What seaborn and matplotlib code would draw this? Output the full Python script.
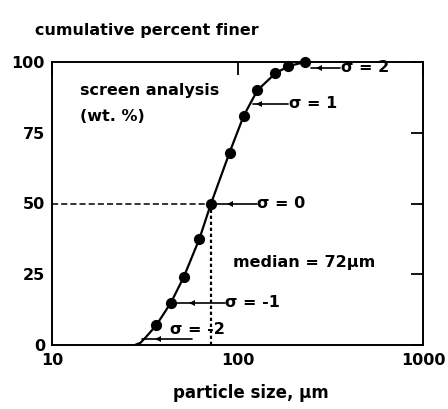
import matplotlib
matplotlib.use("Agg")
import matplotlib.pyplot as plt
import seaborn as sns
import pandas as pd

# ---- data ----
size_um = [36.5, 43.8, 51.3, 62.3, 72.0, 90.6, 108, 128, 160, 188, 230]
pct_finer = [7.0, 15.0, 24.0, 37.5, 50.0, 68.0, 81.0, 90.0, 96.0, 98.5, 100.0]
# start of the curve (no markers) where it leaves the axis
tail_size = [28.0, 30.0, 31.8]
tail_pct = [0.0, 0.8, 2.5]

median_um = 72
sigma_labels = ["σ = 2", "σ = 1", "σ = 0", "σ = -1"]
sigma_pct = [97.9, 85.2, 50.0, 15.0]
sigma_curve_x = [248, 120.5, 72.0, 43.8]
sigma_head_x = [274, 130, 91.6, 57.1]
sigma_text_x = [360, 189, 128, 86]
sig2_label = "σ = -2"
sig2_arrow_pct = 2.1
sig2_curve_x, sig2_head_x, sig2_end_x = 30.6, 37.4, 57.0
sig2_text_x, sig2_text_pct = 43.4, 5.6

xticks = [10, 100, 1000]
yticks = [0, 25, 50, 75, 100]

sns.set_style("white")
plt.rcParams["font.family"] = ["DejaVu Sans"]
plt.rcParams["font.weight"] = "bold"
plt.rcParams["text.color"] = "black"
plt.rcParams["axes.labelcolor"] = "black"
plt.rcParams["xtick.color"] = "black"
plt.rcParams["ytick.color"] = "black"

fig = plt.figure(figsize=(4.48, 4.09), dpi=100)
ax = fig.add_axes([52 / 448, 1 - 345 / 409, 371 / 448, 283 / 409])

curve = pd.DataFrame({"size": tail_size + size_um, "pct": tail_pct + pct_finer})
pts = pd.DataFrame({"size": size_um, "pct": pct_finer})
sns.lineplot(data=curve, x="size", y="pct", ax=ax, color="black", lw=1.6, sort=True)
sns.scatterplot(data=pts, x="size", y="pct", ax=ax, color="black", s=65,
                edgecolor="black", linewidth=0, zorder=5, clip_on=False)

ax.set_xscale("log")
ax.set_xlim(10, 1000)
ax.set_ylim(0, 100)

# median guide lines
ax.plot([10, median_um], [50, 50], color="black", lw=1.1, ls=(0, (4, 2)))
ax.plot([median_um, median_um], [0, 50], color="black", lw=1.6, ls=(0, (1.5, 1.2)))

# sigma arrows
for lab, yv, cx, hx, tx in zip(sigma_labels, sigma_pct, sigma_curve_x, sigma_head_x, sigma_text_x):
    ax.plot([cx, tx * 0.99], [yv, yv], color="black", lw=1.2)
    ax.plot([hx], [yv], marker="<", color="black", ms=5, mew=0)
    ax.text(tx, yv, lab, fontsize=11.5, fontweight="bold", va="center", ha="left", color="black")
ax.plot([sig2_curve_x, sig2_end_x], [sig2_arrow_pct, sig2_arrow_pct], color="black", lw=1.2)
ax.plot([sig2_head_x], [sig2_arrow_pct], marker="<", color="black", ms=5, mew=0)
ax.text(sig2_text_x, sig2_text_pct, sig2_label, fontsize=11.5, fontweight="bold",
        va="center", ha="left", color="black")

ax.text(14.2, 90.1, "screen analysis", fontsize=11.5, fontweight="bold", va="center", ha="left")
ax.text(14.2, 80.6, "(wt. %)", fontsize=11.5, fontweight="bold", va="center", ha="left")
ax.text(95, 29, "median = 72\u00b5m", fontsize=11.5, fontweight="bold", va="center", ha="left")

# axes styling
ax.set_xticks(xticks)
ax.set_xticklabels([str(t) for t in xticks])
ax.xaxis.set_minor_locator(matplotlib.ticker.NullLocator())
ax.set_yticks(yticks)
ax.set_yticklabels([str(t) for t in yticks])
ax.tick_params(axis="both", direction="in", length=9, width=1.3, labelsize=11.5,
               colors="black", top=True, right=True, labeltop=False, labelright=False)
ax.tick_params(axis="y", pad=5)
ax.tick_params(axis="x", pad=6)
for lab in ax.get_xticklabels() + ax.get_yticklabels():
    lab.set_fontweight("bold")
for sp in ax.spines.values():
    sp.set_visible(True)
    sp.set_color("black")
    sp.set_linewidth(1.4)

ax.set_xlabel("particle size, \u00b5m", fontsize=12, fontweight="bold", color="black")
ax.xaxis.set_label_coords((251 - 52) / 371, -0.17)
ax.xaxis.label.set_va("center")
ax.set_ylabel("")
fig.text(35 / 448, 1 - 31 / 409, "cumulative percent finer", fontsize=11.5,
         fontweight="bold", va="center", ha="left", color="black")

fig.savefig("out.png", dpi=100)
